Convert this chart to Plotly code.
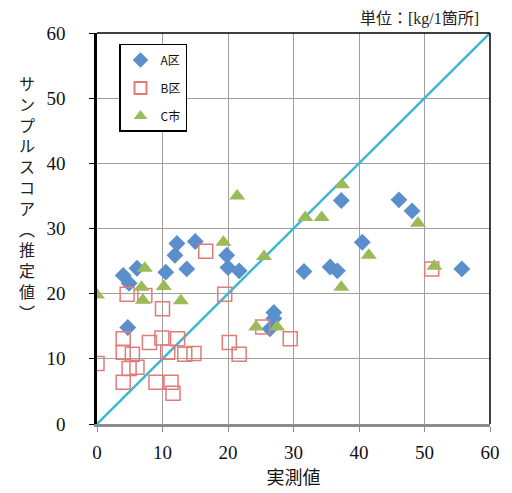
import plotly.graph_objects as go

# A区 (blue diamonds)
a_x = [4.0, 4.9, 6.1, 4.7, 10.5, 11.9, 12.2, 13.7, 15.0, 19.8, 20.0, 21.7, 26.4, 27.0, 27.0,
       31.6, 35.6, 36.7, 37.3, 40.5, 46.1, 48.1, 55.7]
a_y = [22.8, 21.6, 23.9, 14.8, 23.3, 25.9, 27.7, 23.8, 28.0, 25.9, 24.0, 23.5, 14.6, 16.2, 17.1,
       23.4, 24.1, 23.5, 34.3, 27.9, 34.4, 32.7, 23.8]

# B区 (red hollow squares)
b_x = [0.0, 4.0, 4.0, 4.0, 4.6, 4.9, 5.4, 6.1, 7.3, 8.0, 9.0, 9.9, 10.0, 10.8, 11.3, 11.6,
       12.3, 13.4, 14.8, 16.6, 19.5, 20.2, 21.7, 25.3, 29.5, 51.1]
b_y = [9.3, 13.1, 11.0, 6.4, 19.9, 8.5, 10.7, 8.7, 19.7, 12.5, 6.4, 13.2, 17.7, 11.0, 6.4, 4.7,
       13.1, 10.7, 10.8, 26.5, 19.9, 12.5, 10.7, 14.9, 13.1, 23.8]

# C市 (green triangles)
c_x = [0.0, 7.3, 6.8, 7.0, 10.2, 12.8, 19.3, 21.4, 24.3, 25.5, 27.5, 31.8, 34.3, 37.4, 37.3,
       41.5, 49.0, 51.5]
c_y = [19.8, 23.9, 21.0, 19.0, 21.1, 18.9, 27.9, 35.0, 14.9, 25.7, 14.9, 31.7, 31.7, 36.7, 21.0,
       25.9, 30.8, 24.2]

line_x = [0, 60]
line_y = [0, 60]

tick_vals = [0, 10, 20, 30, 40, 50, 60]
tick_text = ["0", "10", "20", "30", "40", "50", "60"]
x_title = "実測値"
y_title = "サンプルスコア︵推定値︶"
unit_text = "単位：[kg/1箇所]"

serif = "Liberation Serif"
jp = "Noto Sans CJK JP"

styled_ticks = [f"<span style='font-family:Liberation Serif'>{t}</span>" for t in tick_text]

fig = go.Figure()
fig.add_trace(go.Scatter(x=line_x, y=line_y, mode="lines",
                         line=dict(color="#3DB7D6", width=2.5),
                         showlegend=False, hoverinfo="skip"))
fig.add_trace(go.Scatter(x=a_x, y=a_y, mode="markers", name="A区", legendgroup="a",
                         marker=dict(symbol="diamond", size=13, color="#5A8FCB",
                                     line=dict(width=0))))
fig.add_trace(go.Scatter(x=b_x, y=b_y, mode="markers", name="B区", legendgroup="b",
                         marker=dict(symbol="square-open", size=14, color="#E07C78",
                                     line=dict(width=1.5))))
fig.add_trace(go.Scatter(x=c_x, y=c_y, mode="markers", name="C市", legendgroup="c",
                         marker=dict(symbol="triangle-up", size=14, color="#9BBB59",
                                     line=dict(width=0))))

axis_common = dict(range=[0, 60], tickmode="array", tickvals=tick_vals, ticktext=styled_ticks,
                   showgrid=True, gridcolor="#A0A0A0",
                   gridwidth=1, zeroline=False, ticks="outside", ticklen=5,
                   tickfont=dict(family=serif, size=19, color="#111"), fixedrange=True)

fig.update_xaxes(**axis_common, showline=True, linecolor="#8C8C8C", linewidth=2.5,
                 tickcolor="#8C8C8C", ticklabelstandoff=4,
                 title=dict(text=x_title, font=dict(family=jp, size=18, color="#111"), standoff=6))
fig.update_yaxes(**axis_common, showline=True, linecolor="#000", linewidth=2.5,
                 tickcolor="#000", ticklabelstandoff=20)

# top and right frame
fig.add_shape(type="line", xref="paper", yref="paper", x0=0, x1=1, y0=1, y1=1,
              line=dict(color="#000", width=1.5))
fig.add_shape(type="line", xref="paper", yref="paper", x0=1, x1=1, y0=0, y1=1,
              line=dict(color="#000", width=1.5))

fig.add_annotation(text="<br>".join(list(y_title)), xref="paper", yref="paper",
                   x=-0.178, y=0.579, xanchor="center", yanchor="middle", showarrow=False,
                   font=dict(family=jp, size=16, color="#222"), align="center")
fig.add_annotation(text=unit_text, xref="paper", yref="paper", x=0.977, y=1.035,
                   xanchor="right", yanchor="middle", showarrow=False,
                   font=dict(family="Liberation Serif, Noto Sans CJK JP", size=16, color="#222"))

fig.update_layout(
    width=504, height=485,
    margin=dict(l=89, r=22, t=25, b=66),
    font=dict(family=serif, color="#111"),
    plot_bgcolor="white", paper_bgcolor="white",
    legend=dict(x=0.056, y=0.972, xanchor="left", yanchor="top",
                bgcolor="white", bordercolor="#000", borderwidth=1.5,
                font=dict(family=jp, size=12, color="#111"),
                tracegroupgap=9, itemsizing="constant"),
    showlegend=True,
)

fig.write_html("out.html")
